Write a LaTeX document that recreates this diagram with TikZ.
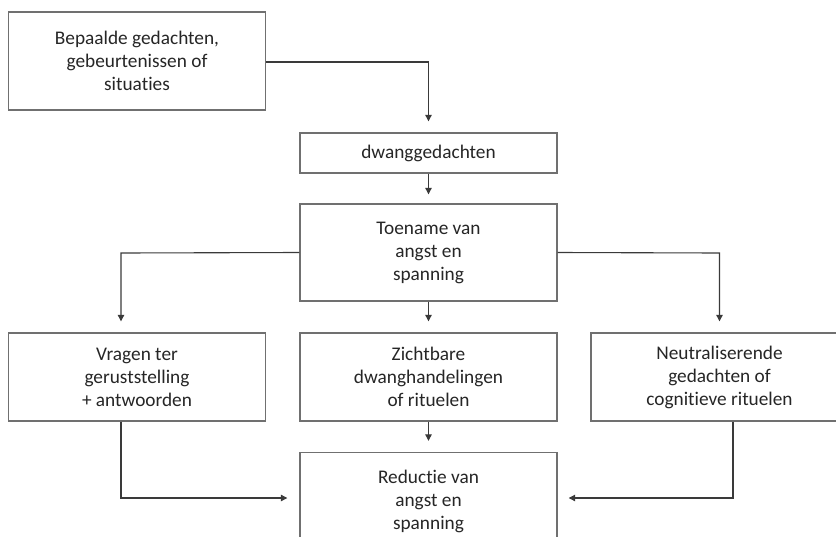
\documentclass[tikz,border=0pt]{standalone}
\usepackage{fontspec}
\setmainfont[Ligatures=NoCommon]{Carlito}
\usetikzlibrary{arrows.meta}
\definecolor{boxline}{HTML}{707070}
\definecolor{connline}{HTML}{3A3A3A}
\definecolor{txt}{HTML}{262626}
\tikzset{
  stepbox/.style={draw=boxline, line width=1.4pt, fill=white, text=txt,
    minimum width=257pt, align=center, inner sep=0pt,
    font=\fontsize{19.3pt}{23pt}\selectfont},
  conn/.style={draw=connline, line width=1.1pt,
    -{Triangle[width=6.5pt,length=6.5pt]}, shorten >=11pt}
}
\begin{document}
\begin{tikzpicture}[x=1pt,y=-1pt]
\useasboundingbox (0,0) rectangle (836,536);
\clip (0,0) rectangle (836,536);
\node[stepbox, minimum height=98pt] (b1) at (137,61) {Bepaalde gedachten,\\gebeurtenissen of\\situaties};
\node[stepbox, minimum height=40pt] (b2) at (428.5,153) {dwanggedachten};
\node[stepbox, minimum height=97pt] (b3) at (428.5,252.5) {Toename van\\angst en\\spanning};
\node[stepbox, minimum height=88pt] (b4) at (137,377) {Vragen ter\\geruststelling\\+ antwoorden};
\node[stepbox, minimum height=88pt] (b5) at (428.5,377) {Zichtbare\\dwanghandelingen\\of rituelen};
\node[stepbox, minimum height=88pt] (b6) at (719.5,377) {Neutraliserende\\gedachten of\\cognitieve rituelen};
\node[stepbox, minimum height=97pt] (b7) at (428.5,501) {Reductie van\\angst en\\spanning};
\coordinate (k1) at (428.5,62);
\coordinate (k4) at (121,253);
\coordinate (k6) at (719.5,253);
\coordinate (m4) at (121,498);
\coordinate (m6) at (733,498);
\draw[conn] ([yshift=-1pt]b1.east) -- (k1) -- (b2.north);
\draw[conn, shorten >=9pt] (b2.south) -- (b3.north);
\draw[conn] (b3.west) -- (k4) -- (b4.north -| k4);
\draw[conn] (b3.east) -- (k6) -- (b6.north);
\draw[conn] (b3.south) -- (b5.north);
\draw[conn] (b5.south) -- (b7.north);
\draw[conn, shorten >=12pt] (b4.south -| m4) -- (m4) -- (b7.west |- m4);
\draw[conn] (b6.south -| m6) -- (m6) -- (b7.east |- m6);
\end{tikzpicture}
\end{document}
